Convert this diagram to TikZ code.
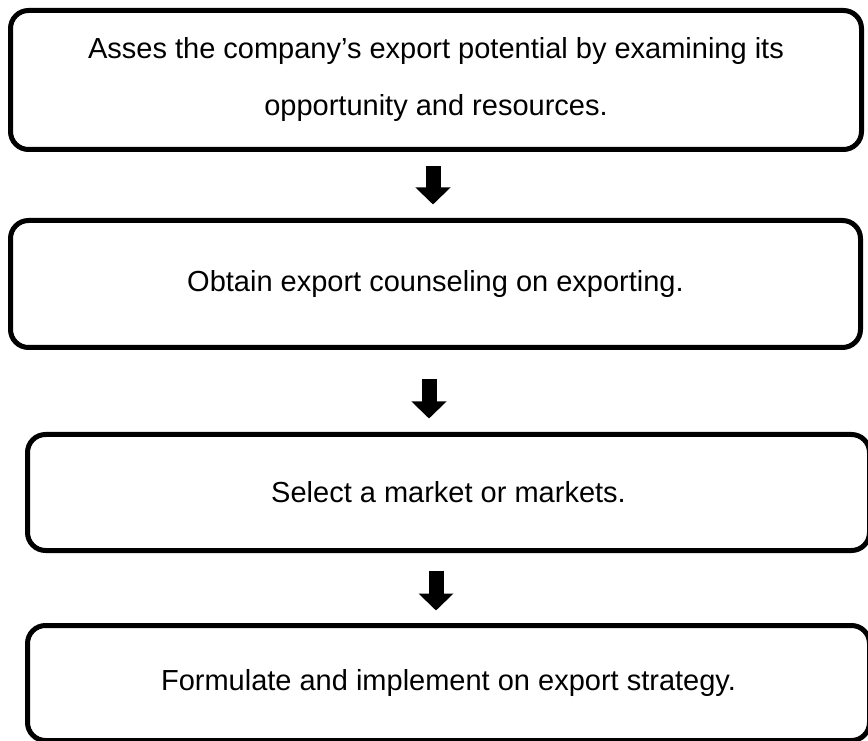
\documentclass[tikz,border=0pt]{standalone}
\usepackage{fontspec}
\setmainfont{Liberation Sans}
\usetikzlibrary{arrows.meta}

\begin{document}
\begin{tikzpicture}
  [x=1pt, y=1pt,
   stepbox/.style={draw, line width=5pt, rounded corners=18pt, inner sep=0pt,
     align=center, font=\fontsize{29}{57}\selectfont},
   flow/.style={line width=15pt, -{Triangle[width=34pt, length=17pt]}}]
  \useasboundingbox (0, 0) rectangle (868, 740);
  \node[stepbox, minimum width=851pt, minimum height=139pt] (assess) at (436, 660)
    {Asses the company’s export potential by examining its\\opportunity and resources.};
  \node[stepbox, minimum width=850pt, minimum height=127pt] (counsel) at (435.5, 456)
    {Obtain export counseling on exporting.};
  \node[stepbox, minimum width=842pt, minimum height=116pt] (market) at (448.5, 247.5)
    {Select a market or markets.};
  \node[stepbox, minimum width=842pt, minimum height=115pt] (strategy) at (448.5, 57)
    {Formulate and implement on export strategy.};
  \draw[flow, shorten <=14.5pt, shorten >=13.5pt]
    ([xshift=-3pt]assess.south) -- ([xshift=-3pt]assess.south |- counsel.north);
  \draw[flow, shorten <=29.5pt, shorten >=13.5pt]
    ([xshift=-6.5pt]counsel.south) -- ([xshift=-6.5pt]counsel.south |- market.north);
  \draw[flow, shorten <=17.5pt, shorten >=12.5pt]
    ([xshift=-12.5pt]market.south) -- ([xshift=-12.5pt]market.south |- strategy.north);
\end{tikzpicture}
\end{document}
